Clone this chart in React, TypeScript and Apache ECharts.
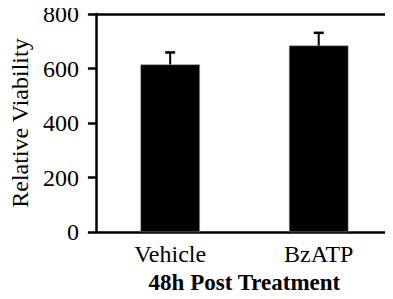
import React, { useEffect, useRef } from "react";
import * as echarts from "echarts";

const categories = ["Vehicle", "BzATP"];
const means = [615, 684];
const errorTops = [659, 731];
const yTicks = [0, 200, 400, 600, 800];

const FONT = "Liberation Serif";

export default function App() {
  const ref = useRef<HTMLDivElement>(null);
  useEffect(() => {
    if (!ref.current) return;
    const chart = echarts.init(ref.current, null, { renderer: "svg" });
    const errData = categories.map((_, i) => [i, means[i], errorTops[i]]);
    chart.setOption({
      animation: false,
      textStyle: { fontFamily: FONT, color: "#000" },
      grid: { left: 92, right: -3, top: 14, bottom: 64 },
      xAxis: [
        {
          type: "category",
          data: categories,
          position: "bottom",
          name: "48h Post Treatment",
          nameLocation: "middle",
          nameGap: 33,
          nameTextStyle: { fontFamily: FONT, fontSize: 23, fontWeight: "bold", color: "#000" },
          axisLine: { lineStyle: { color: "#000", width: 2.5 } },
          axisTick: { show: false },
          axisLabel: { fontFamily: FONT, fontSize: 24, color: "#000", margin: 10 },
        },
        {
          type: "category",
          data: categories,
          position: "top",
          axisLine: { show: true, lineStyle: { color: "#000", width: 2.5 } },
          axisTick: { show: false },
          axisLabel: { show: false },
        },
      ],
      yAxis: {
        type: "value",
        min: 0,
        max: 800,
        interval: 200,
        name: "Relative Viability",
        nameLocation: "middle",
        nameGap: 56,
        nameTextStyle: { fontFamily: FONT, fontSize: 24, color: "#000" },
        axisLine: { show: true, lineStyle: { color: "#000", width: 2.5 } },
        axisTick: { show: true, length: 8, lineStyle: { color: "#000", width: 2.5 } },
        axisLabel: {
          fontFamily: FONT,
          fontSize: 24,
          color: "#000",
          margin: 17,
          formatter: (v: number) => (yTicks.includes(v) ? String(v) : ""),
        },
        splitLine: { show: false },
      },
      series: [
        {
          type: "bar",
          data: means,
          barWidth: "40%",
          itemStyle: { color: "#000", borderColor: "#999", borderWidth: 0.5 },
          z: 2,
        },
        {
          type: "custom",
          data: errData,
          z: 3,
          renderItem: (params: any, api: any) => {
            const x = api.value(0);
            const base = api.coord([x, api.value(1)]);
            const top = api.coord([x, api.value(2)]);
            const hw = 5;
            return {
              type: "group",
              children: [
                {
                  type: "line",
                  shape: { x1: base[0], y1: base[1], x2: top[0], y2: top[1] },
                  style: { stroke: "#000", lineWidth: 2 },
                },
                {
                  type: "line",
                  shape: { x1: top[0] - hw, y1: top[1], x2: top[0] + hw, y2: top[1] },
                  style: { stroke: "#000", lineWidth: 2.5 },
                },
              ],
            };
          },
        },
      ],
    });
    return () => chart.dispose();
  }, []);
  return <div ref={ref} style={{ width: 393, height: 299, margin: -8 }} />;
}
